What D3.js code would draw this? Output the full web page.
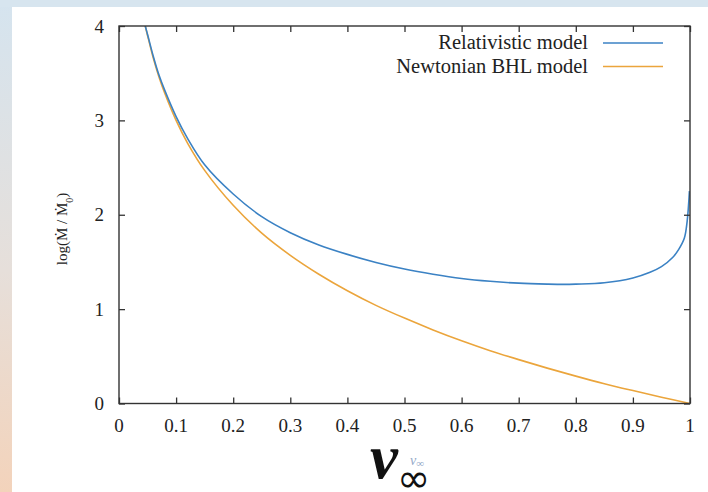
<!DOCTYPE html>
<html>
<head>
<meta charset="utf-8">
<script src="https://cdn.jsdelivr.net/npm/d3@7"></script>
<style>
  body { margin: 0; background: #fff; }
  svg text { font-family: "Liberation Serif", "DejaVu Serif", serif; fill: #222; }
</style>
</head>
<body>
<div id="container"></div>
<script>
var width = 708,
    height = 492;

// v_inf values
var relV   = [0.046, 0.05, 0.06, 0.07, 0.08, 0.10, 0.12, 0.15, 0.20, 0.25, 0.30, 0.35, 0.40, 0.45, 0.50,
              0.55, 0.60, 0.65, 0.70, 0.75, 0.78, 0.80, 0.85, 0.90, 0.93, 0.95, 0.97, 0.98, 0.99, 0.995, 0.999];
var relLog = [4.00, 3.91, 3.68, 3.48, 3.32, 3.04, 2.81, 2.53, 2.22, 1.98, 1.81, 1.68, 1.58, 1.495, 1.425,
              1.37, 1.325, 1.295, 1.275, 1.265, 1.262, 1.265, 1.28, 1.33, 1.39, 1.45, 1.55, 1.63, 1.75, 1.93, 2.25];

var newtV   = [0.046, 0.05, 0.06, 0.07, 0.08, 0.10, 0.12, 0.15, 0.20, 0.25, 0.30, 0.35, 0.40, 0.45, 0.50,
               0.55, 0.60, 0.65, 0.70, 0.75, 0.80, 0.85, 0.90, 0.95, 1.00];
var newtLog = [4.00, 3.90, 3.66, 3.46, 3.29, 3.00, 2.76, 2.47, 2.10, 1.805, 1.57, 1.37, 1.195, 1.04, 0.905,
               0.78, 0.665, 0.56, 0.465, 0.375, 0.29, 0.21, 0.137, 0.067, 0.00];

var xTicks = [0, 0.1, 0.2, 0.3, 0.4, 0.5, 0.6, 0.7, 0.8, 0.9, 1];
var yTicks = [0, 1, 2, 3, 4];
var seriesNames = ['Relativistic model', 'Newtonian BHL model'];
var colors = ['#3b82c4', '#eba53c'];

var svg = d3.select('div#container')
    .append('svg')
    .attr('width', width)
    .attr('height', height);

// slide-like frame behind the chart
var defs = svg.append('defs');
var grad = defs.append('linearGradient')
    .attr('id', 'side')
    .attr('x1', 0).attr('y1', 0).attr('x2', 0).attr('y2', 1);
grad.append('stop').attr('offset', '0%').attr('stop-color', '#d5e4ef');
grad.append('stop').attr('offset', '55%').attr('stop-color', '#e6dfda');
grad.append('stop').attr('offset', '100%').attr('stop-color', '#f3d3bb');

svg.append('rect').attr('width', width).attr('height', height).attr('fill', 'url(#side)');
svg.append('rect').attr('width', width).attr('height', 7).attr('fill', '#d7e5ef');
svg.append('rect').attr('x', 12).attr('y', 7).attr('width', width - 12).attr('height', height - 7).attr('fill', '#fff');

var x = d3.scaleLinear().domain([0, 1]).range([119, 690]),
    y = d3.scaleLinear().domain([0, 4]).range([403.5, 26]);

defs.append('clipPath').attr('id', 'plot')
    .append('rect')
    .attr('x', x(0)).attr('y', y(4))
    .attr('width', x(1) - x(0)).attr('height', y(0) - y(4));

var line = d3.line()
    .x(function(d) { return x(d[0]); })
    .y(function(d) { return y(d[1]); })
    .curve(d3.curveCatmullRom.alpha(0.5));

var relData = relV.map(function(v, i) { return [v, relLog[i]]; }),
    newtData = newtV.map(function(v, i) { return [v, newtLog[i]]; });

var g = svg.append('g').attr('clip-path', 'url(#plot)');
g.append('path').datum(newtData)
    .attr('d', line).attr('fill', 'none')
    .attr('stroke', colors[1]).attr('stroke-width', 1.6);
g.append('path').datum(relData)
    .attr('d', line).attr('fill', 'none')
    .attr('stroke', colors[0]).attr('stroke-width', 1.6);

// axes: inward ticks on all four sides
function noText(s) { s.selectAll('text').remove(); s.select('.domain').remove(); }
var tickLen = 6;
svg.append('g').attr('transform', 'translate(0,' + y(0) + ')')
    .call(d3.axisTop(x).tickValues(xTicks).tickSize(tickLen)).call(noText);
svg.append('g').attr('transform', 'translate(0,' + y(4) + ')')
    .call(d3.axisBottom(x).tickValues(xTicks).tickSize(tickLen)).call(noText);
svg.append('g').attr('transform', 'translate(' + x(0) + ',0)')
    .call(d3.axisRight(y).tickValues(yTicks).tickSize(tickLen)).call(noText);
svg.append('g').attr('transform', 'translate(' + x(1) + ',0)')
    .call(d3.axisLeft(y).tickValues(yTicks).tickSize(tickLen)).call(noText);
svg.selectAll('.tick line').attr('stroke', '#333').attr('stroke-width', 1.3);

svg.append('rect')
    .attr('x', x(0)).attr('y', y(4))
    .attr('width', x(1) - x(0)).attr('height', y(0) - y(4))
    .attr('fill', 'none').attr('stroke', '#333').attr('stroke-width', 1.4);

// tick labels
svg.selectAll('.xlab').data(xTicks).enter().append('text')
    .attr('x', function(d) { return x(d); })
    .attr('y', 432)
    .attr('text-anchor', 'middle')
    .style('font-size', '19px')
    .text(function(d) { return d === 0 || d === 1 ? d : d.toFixed(1); });

svg.selectAll('.ylab').data(yTicks).enter().append('text')
    .attr('x', 104)
    .attr('y', function(d) { return y(d) + 6.5; })
    .attr('text-anchor', 'end')
    .style('font-size', '19px')
    .text(function(d) { return d; });

// y axis title
var yt = svg.append('text')
    .attr('transform', 'translate(67,229) rotate(-90)')
    .attr('text-anchor', 'middle')
    .style('font-size', '15px');
yt.append('tspan').text('log(M\u0307 / M\u0307');
yt.append('tspan').attr('baseline-shift', 'sub').style('font-size', '10px').text('0');
yt.append('tspan').text(')');

// x axis title (big overlay plus the small original)
svg.append('text')
    .attr('x', 370).attr('y', 478)
    .style('font-size', '63px').style('font-weight', 'bold').style('font-style', 'italic')
    .style('fill', '#111')
    .text('v');
var sm = svg.append('text')
    .attr('x', 410).attr('y', 465)
    .style('font-size', '14px').style('font-style', 'italic')
    .style('fill', '#93a9c8');
sm.append('tspan').text('v');
sm.append('tspan').attr('dy', 2).style('font-size', '11px').style('font-style', 'normal').text('\u221e');
svg.append('text')
    .attr('x', 397).attr('y', 492)
    .style('font-family', '"DejaVu Sans", sans-serif')
    .style('font-size', '40px')
    .style('fill', '#111')
    .text('\u221e');

// legend
var legend = svg.selectAll('.legend').data(seriesNames).enter().append('g')
    .attr('transform', function(d, i) { return 'translate(0,' + (43 + i * 23.5) + ')'; });
legend.append('text')
    .attr('x', 588).attr('y', 6)
    .attr('text-anchor', 'end')
    .style('font-size', '20.5px')
    .text(function(d) { return d; });
legend.append('line')
    .attr('x1', 603).attr('x2', 663)
    .attr('stroke', function(d, i) { return colors[i]; })
    .attr('stroke-width', 1.6);
</script>
</body>
</html>
